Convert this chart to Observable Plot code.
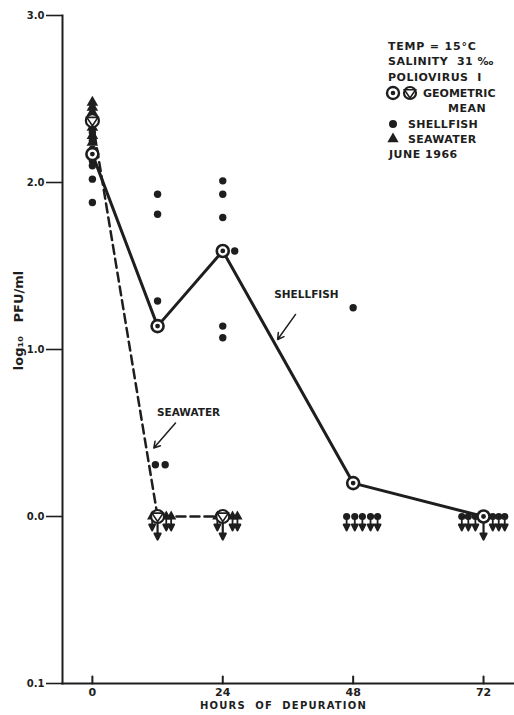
<!DOCTYPE html>
<html><head><meta charset="utf-8">
<script src="https://cdn.jsdelivr.net/npm/d3@7"></script>
<script src="https://cdn.jsdelivr.net/npm/@observablehq/plot@0.6"></script>
<style>
  html,body{margin:0;padding:0;background:#fff}
  #chart{position:relative;width:514px;height:715px}
</style>
</head><body><div id="chart"></div>
<script>
const ink = "#1e1e1e";

// axes
const xTicks = [0, 24, 48, 72];
const yTicks = [3, 2, 1, 0, -1];
const yTickLabels = ["3.0", "2.0", "1.0", "0.0", "0.1"];
const xTitle = "HOURS  OF  DEPURATION";
const yTitle = "log\u2081\u2080   PFU/ml";

// geometric means (log10 PFU/ml)
const shellfishMeanHours = [0, 12, 24, 48, 72];
const shellfishMean = [2.17, 1.14, 1.59, 0.20, 0.0];
const seawaterMeanHours = [0, 12, 24];
const seawaterMean = [2.37, 0.0, 0.0];

// individual samples
const shellfishHours = [0, 0, 0, 0, 0, 0, 0, 12, 12, 12, 11.6, 13.4, 24, 24, 24, 26.2, 24, 24, 48];
const shellfishLog = [2.30, 2.25, 2.20, 2.13, 2.10, 2.02, 1.88, 1.93, 1.81, 1.29, 0.31, 0.31, 2.01, 1.93, 1.79, 1.59, 1.14, 1.07, 1.25];
const seawaterHours = [0, 0, 0, 0, 0, 0, 0];
const seawaterLog = [2.48, 2.45, 2.42, 2.39, 2.33, 2.28, 2.24];

// samples below detection (plotted at 0.0 with downward arrows)
const shellfishBelowHours = [46.8, 48.3, 49.7, 51.2, 52.5, 68.0, 69.2, 70.5, 73.7, 74.8, 75.9];
const seawaterBelowHours = [11.0, 13.6, 14.5, 23.0, 25.8, 26.7];
const meanBelowHours = [12, 24, 72];

// annotations
const labelText = ["SHELLFISH", "SEAWATER"];
const labelHours = [39.4, 17.7];
const labelLog = [1.33, 0.62];
const pointerFromHours = [37.4, 15.3];
const pointerFromLog = [1.21, 0.56];
const pointerToHours = [34.1, 11.3];
const pointerToLog = [1.06, 0.41];

const shellMeanData = shellfishMeanHours.map((h, i) => ({h, v: shellfishMean[i]}));
const seaMeanData = seawaterMeanHours.map((h, i) => ({h, v: seawaterMean[i]}));
const shellData = shellfishHours.map((h, i) => ({h, v: shellfishLog[i]}));
const seaData = seawaterHours.map((h, i) => ({h, v: seawaterLog[i]}));
const labels = labelText.map((t, i) => ({t, h: labelHours[i], v: labelLog[i]}));
const pointers = labelText.map((t, i) => ({x1: pointerFromHours[i], y1: pointerFromLog[i], x2: pointerToHours[i], y2: pointerToLog[i]}));
const yLab = new Map(yTicks.map((t, i) => [t, yTickLabels[i]]));

const downArrow = {draw(ctx, l) {
  ctx.moveTo(0, 0); ctx.lineTo(0, -l + 5);
  ctx.moveTo(-3, -l + 6); ctx.lineTo(0, -l); ctx.lineTo(3, -l + 6); ctx.closePath();
}};
const tickUp = {draw(ctx, l) { ctx.moveTo(0, 0); ctx.lineTo(0, -l); }};
const downTri = {draw(ctx, size) {
  const r = Math.sqrt(size / 1.3);
  ctx.moveTo(-r, -r * 0.6); ctx.lineTo(r, -r * 0.6); ctx.lineTo(0, r * 0.9); ctx.closePath();
}};

const font = "'DejaVu Sans', 'Liberation Sans', sans-serif";

const chart = Plot.plot({
  width: 514, height: 715,
  marginLeft: 62, marginTop: 15, marginBottom: 32, marginRight: 0,
  style: {fontFamily: font, fontWeight: "bold", color: ink, background: "#fff", overflow: "visible"},
  x: {domain: [-5.5, 77.7], axis: null},
  y: {domain: [-1, 3], axis: null},
  marks: [
    Plot.frame({anchor: "left", stroke: ink, strokeWidth: 2}),
    Plot.frame({anchor: "bottom", stroke: ink, strokeWidth: 2}),
    Plot.axisY(yTicks, {anchor: "left", tickSize: 16, tickPadding: 2, fontSize: 10, strokeWidth: 1.6, stroke: ink, tickFormat: d => yLab.get(d), label: null}),
    Plot.axisX(xTicks, {anchor: "bottom", tickSize: 0, tickPadding: 5, fontSize: 11, tickFormat: d => String(d), label: null}),
    Plot.vector(xTicks, {x: d => d, y: -1, length: 7, anchor: "start", shape: tickUp, stroke: ink, strokeWidth: 2}),
    Plot.text([xTitle], {frameAnchor: "bottom", dx: -5, dy: 25, fontSize: 10, fill: ink}),
    Plot.text([yTitle], {frameAnchor: "left", textAnchor: "middle", dx: -44, dy: -29, rotate: -90, fontSize: 13, fill: ink}),

    // curves
    Plot.line(seaMeanData, {x: "h", y: "v", stroke: ink, strokeWidth: 2.5, strokeDasharray: "9,5"}),
    Plot.line(shellMeanData, {x: "h", y: "v", stroke: ink, strokeWidth: 3}),

    // below-detection arrows
    Plot.vector(shellfishBelowHours, {x: d => d, y: 0, length: 14, rotate: 180, anchor: "start", shape: downArrow, stroke: ink, fill: ink, strokeWidth: 1.8}),
    Plot.vector(seawaterBelowHours, {x: d => d, y: 0, length: 14, rotate: 180, anchor: "start", shape: downArrow, stroke: ink, fill: ink, strokeWidth: 1.8}),
    Plot.vector(meanBelowHours, {x: d => d, y: 0, length: 23, rotate: 180, anchor: "start", shape: downArrow, stroke: ink, fill: ink, strokeWidth: 2.2}),
    Plot.dot(shellfishBelowHours, {x: d => d, y: 0, r: 3.6, fill: ink}),
    Plot.dot(seawaterBelowHours, {x: d => d, y: 0, symbol: "triangle", r: 3.8, fill: ink}),

    // samples
    Plot.dot(seaData, {x: "h", y: "v", symbol: "triangle", r: 4.3, fill: ink}),
    Plot.dot(shellData, {x: "h", y: "v", r: 3.7, fill: ink}),

    // geometric means
    Plot.dot(seaMeanData, {x: "h", y: "v", r: 6.5, fill: "#fff", stroke: ink, strokeWidth: 2.2}),
    Plot.dot(seaMeanData, {x: "h", y: "v", symbol: downTri, r: 3.6, fill: "none", stroke: ink, strokeWidth: 1.6}),
    Plot.dot(shellMeanData, {x: "h", y: "v", r: 6, fill: "#fff", stroke: ink, strokeWidth: 2.6}),
    Plot.dot(shellMeanData, {x: "h", y: "v", r: 2.4, fill: ink}),

    // annotations
    Plot.text(labels, {x: "h", y: "v", text: "t", fontSize: 10.5, fill: ink}),
    Plot.arrow(pointers, {x1: "x1", y1: "y1", x2: "x2", y2: "y2", stroke: ink, strokeWidth: 1.5, headLength: 7})
  ]
});

// legend (inside the plot, top right)
const svg = d3.select(chart);
const lg = svg.append("g").attr("font-family", font).attr("font-weight", "bold").attr("font-size", 11)
  .attr("fill", ink).attr("text-anchor", "start");
const legendLines = [
  {y: 46, x: 388, t: "TEMP = 15°C", ls: 0.8},
  {y: 61, x: 388, t: "SALINITY  31 ‰", ls: 0.5},
  {y: 77, x: 388, t: "POLIOVIRUS  I", ls: 0.5},
  {y: 93, x: 423, t: "GEOMETRIC", ls: 0},
  {y: 108, x: 448, t: "MEAN", ls: 0.5},
  {y: 124, x: 408, t: "SHELLFISH", ls: 0.3},
  {y: 139, x: 408, t: "SEAWATER", ls: 0.3},
  {y: 154, x: 389, t: "JUNE 1966", ls: 0.5}
];
lg.selectAll("text").data(legendLines).join("text")
  .attr("x", d => d.x).attr("y", d => d.y).attr("dy", "0.35em").attr("letter-spacing", d => d.ls + "px").text(d => d.t);
lg.append("circle").attr("cx", 393).attr("cy", 93).attr("r", 6).attr("fill", "#fff").attr("stroke", ink).attr("stroke-width", 2.4);
lg.append("circle").attr("cx", 393).attr("cy", 93).attr("r", 2.3).attr("fill", ink);
lg.append("circle").attr("cx", 410).attr("cy", 93).attr("r", 6).attr("fill", "#fff").attr("stroke", ink).attr("stroke-width", 2.2);
lg.append("path").attr("d", d3.symbol(downTri, 3.6 * 3.6 * Math.PI)()).attr("transform", "translate(410,93)").attr("fill", "none").attr("stroke", ink).attr("stroke-width", 1.5);
lg.append("circle").attr("cx", 393).attr("cy", 124).attr("r", 4).attr("fill", ink);
lg.append("path").attr("d", d3.symbol(d3.symbolTriangle, 55)()).attr("transform", "translate(393,139)").attr("fill", ink);

svg.selectAll("text").filter(function() { return this.textContent === xTitle; }).attr("letter-spacing", "1.2px");

document.getElementById("chart").appendChild(chart);
</script></body></html>
